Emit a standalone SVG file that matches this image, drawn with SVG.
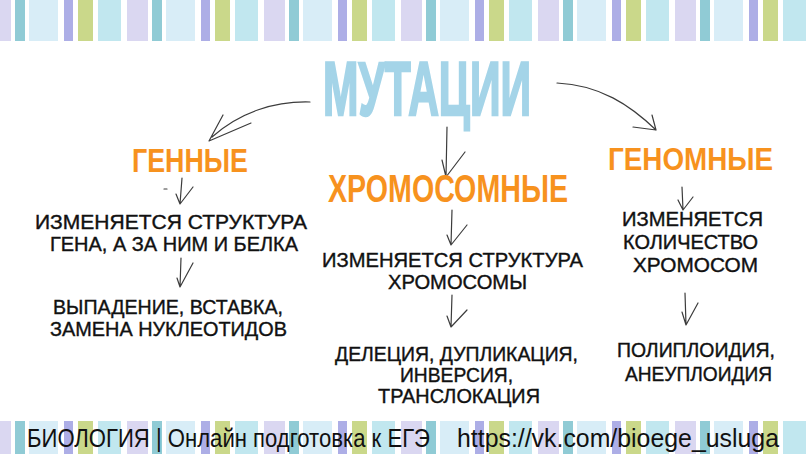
<svg xmlns="http://www.w3.org/2000/svg" width="807" height="454" viewBox="0 0 807 454">
<defs>
<pattern id="stripes" patternUnits="userSpaceOnUse" x="-10" y="0" width="137" height="454">
<rect x="0" y="0" width="21" height="454" fill="#dad7f1"/>
<rect x="25" y="0" width="10" height="454" fill="#90cbd5"/>
<rect x="39" y="0" width="29" height="454" fill="#d8edf7"/>
<rect x="74" y="0" width="9" height="454" fill="#adaee6"/>
<rect x="88" y="0" width="15" height="454" fill="#cad88a"/>
<rect x="108" y="0" width="23" height="454" fill="#c1e7ef"/>
</pattern>
</defs>
<style>
.title{font-family:"Liberation Sans",Arial,sans-serif;font-weight:bold;fill:#a4d4e8;stroke:#a4d4e8;stroke-width:2.5;font-size:76px}
.head{font-family:"Liberation Sans",Arial,sans-serif;font-weight:bold;fill:#f7921e}
.txt{font-family:"Liberation Sans",Arial,sans-serif;fill:#111;font-size:21px;stroke:#111;stroke-width:0.4}
.foot{font-family:"Liberation Sans",Arial,sans-serif;fill:#111;font-size:25px}
.arr{fill:none;stroke:#3c3c3c;stroke-width:1.2;stroke-linecap:round;stroke-linejoin:round}
</style>
<rect x="0" y="0" width="807" height="454" fill="#ffffff"/>
<rect x="0" y="0" width="807" height="41" fill="url(#stripes)"/>
<rect x="0" y="421" width="807" height="33" fill="url(#stripes)"/>

<g id="connectors">
<path class="arr" d="M310,102 C275,101 240,112 212,137 M223,115 L209,141 L251,123"/>
<path class="arr" d="M447,127 L446,177 M442,160 L446,177 L465,152"/>
<path class="arr" d="M557,83 C600,85 630,105 656,130 M652,115 L656,130 L633,127"/>
<path class="arr" d="M182,178 L180,204 M176,194 L180,204 L193,187 M164,189 L167,189"/>
<path class="arr" d="M181,258 L180,287 L193,263 M177,278 L180,287"/>
<path class="arr" d="M452,210 L451,245 L467,225 M447,235 L451,245"/>
<path class="arr" d="M452,295 L451,327 L467,310 M447,316 L451,327"/>
<path class="arr" d="M682,187 L683,210 L693,197 M678,200 L683,210"/>
<path class="arr" d="M685,293 L686,325 L698,303 M682,312 L686,325"/>
</g>

<g id="title"><text class="title" x="323" y="115" textLength="208" lengthAdjust="spacingAndGlyphs">МУТАЦИИ</text></g>

<g id="genny"><text class="head" x="132" y="172" font-size="33" textLength="116" lengthAdjust="spacingAndGlyphs">ГЕННЫЕ</text></g>
<g id="genny-1">
<text class="txt" x="35" y="229" textLength="272" lengthAdjust="spacingAndGlyphs">ИЗМЕНЯЕТСЯ СТРУКТУРА</text>
<text class="txt" x="50" y="251" textLength="248" lengthAdjust="spacingAndGlyphs">ГЕНА, А ЗА НИМ И БЕЛКА</text>
</g>
<g id="genny-2">
<text class="txt" x="53" y="314" textLength="230" lengthAdjust="spacingAndGlyphs">ВЫПАДЕНИЕ, ВСТАВКА,</text>
<text class="txt" x="50" y="336" textLength="237" lengthAdjust="spacingAndGlyphs">ЗАМЕНА НУКЛЕОТИДОВ</text>
</g>

<g id="chromo"><text class="head" x="328" y="202" font-size="38" textLength="240" lengthAdjust="spacingAndGlyphs">ХРОМОСОМНЫЕ</text></g>
<g id="chromo-1">
<text class="txt" x="322" y="267" textLength="261" lengthAdjust="spacingAndGlyphs">ИЗМЕНЯЕТСЯ СТРУКТУРА</text>
<text class="txt" x="388" y="289" textLength="139" lengthAdjust="spacingAndGlyphs">ХРОМОСОМЫ</text>
</g>
<g id="chromo-2">
<text class="txt" x="335" y="361" textLength="243" lengthAdjust="spacingAndGlyphs">ДЕЛЕЦИЯ, ДУПЛИКАЦИЯ,</text>
<text class="txt" x="400" y="382" textLength="113" lengthAdjust="spacingAndGlyphs">ИНВЕРСИЯ,</text>
<text class="txt" x="378" y="403" textLength="162" lengthAdjust="spacingAndGlyphs">ТРАНСЛОКАЦИЯ</text>
</g>

<g id="genome"><text class="head" x="608" y="170" font-size="32" textLength="165" lengthAdjust="spacingAndGlyphs">ГЕНОМНЫЕ</text></g>
<g id="genome-1">
<text class="txt" x="622" y="226" textLength="141" lengthAdjust="spacingAndGlyphs">ИЗМЕНЯЕТСЯ</text>
<text class="txt" x="623" y="249" textLength="135" lengthAdjust="spacingAndGlyphs">КОЛИЧЕСТВО</text>
<text class="txt" x="633" y="272" textLength="125" lengthAdjust="spacingAndGlyphs">ХРОМОСОМ</text>
</g>
<g id="genome-2">
<text class="txt" x="617" y="357" textLength="158" lengthAdjust="spacingAndGlyphs">ПОЛИПЛОИДИЯ,</text>
<text class="txt" x="625" y="381" textLength="147" lengthAdjust="spacingAndGlyphs">АНЕУПЛОИДИЯ</text>
</g>

<g id="footer">
<text class="foot" x="27" y="447" textLength="403" lengthAdjust="spacingAndGlyphs">БИОЛОГИЯ | Онлайн подготовка к ЕГЭ</text>
<text class="foot" x="457" y="447" textLength="322" lengthAdjust="spacingAndGlyphs">https://vk.com/bioege_usluga</text>
</g>
</svg>
